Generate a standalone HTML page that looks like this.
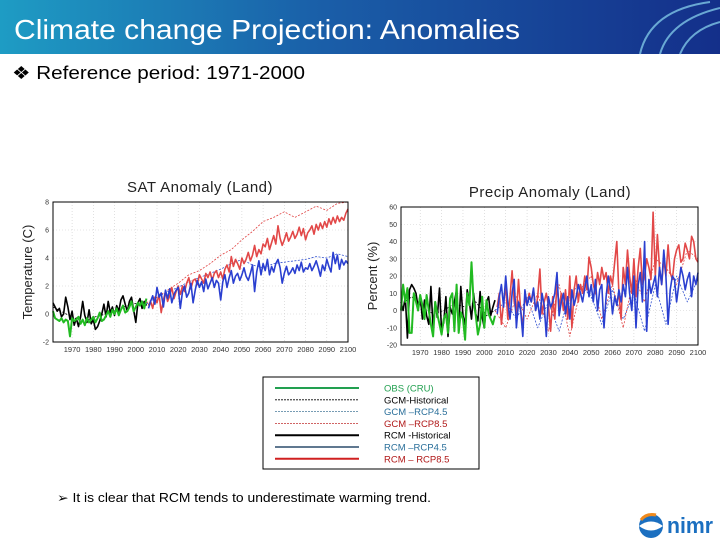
<!DOCTYPE html>
<html><head><meta charset="utf-8"><style>
body{margin:0;width:720px;height:540px;overflow:hidden;background:#fff;font-family:"Liberation Sans",sans-serif;}
svg{display:block}
</style></head><body>
<svg id="s" width="720" height="540" viewBox="0 0 720 540">
<defs>
<linearGradient id="hg" x1="0" x2="1" y1="0" y2="0"><stop offset="0" stop-color="#1e9cc4"/><stop offset="0.45" stop-color="#1a5ea8"/><stop offset="1" stop-color="#142f8a"/></linearGradient>
</defs>
<rect x="0" y="0" width="720" height="54" fill="url(#hg)"/>
<g fill="none" stroke="#7fc6e6" stroke-width="2" opacity="0.8">
<path d="M640 54 Q650 10 710 2"/><path d="M660 54 Q670 20 720 8"/><path d="M680 54 Q690 30 720 22"/>
</g>
<text x="14" y="39" font-size="28" fill="#fff" textLength="506" lengthAdjust="spacingAndGlyphs">Climate change Projection: Anomalies</text>
<text x="12" y="79" font-size="18" fill="#000" textLength="293" lengthAdjust="spacingAndGlyphs">❖ Reference period: 1971-2000</text>
<g id="c1"></g><g id="c2"></g>
<g font-size="9.5">
<rect x="263" y="377" width="216" height="92" fill="#fff" stroke="#000" stroke-width="1"/>
</g>
<g id="leg"></g>
<text x="57" y="502" font-size="12.5" fill="#000" textLength="374" lengthAdjust="spacingAndGlyphs">➢  It is clear that RCM tends to underestimate warming trend.</text>
<g>
<circle cx="651" cy="526" r="12" fill="#1b6fc0"/>
<path d="M639 526 Q651 517 663 526 Q651 535 639 526Z" fill="#fff"/>
<path d="M641 520 Q646 513 656 515" stroke="#f08a1c" stroke-width="3" fill="none"/>
<text x="667" y="533" font-size="22" font-weight="bold" fill="#1b6fc0" textLength="46" lengthAdjust="spacingAndGlyphs">nimr</text>
</g>
</svg>
<script>
const NS="http://www.w3.org/2000/svg";
// ---- SAT data ----
const satObsStart=1961;
const satObs=[0.2,-0.3,-0.4,-0.5,-0.3,-0.6,-0.4,-0.5,-1.6,-0.3,-0.5,-0.4,-0.2,-0.7,-0.4,-0.8,-0.3,-0.6,-0.4,-0.2,-0.6,-0.3,0.1,-0.5,-0.4,-0.1,0.2,-0.2,0.3,0.0,0.4,-0.1,0.3,0.6,0.1,0.2,0.5,0.9,0.2,0.5,0.8,0.6,0.9,0.4,1.1];
const satRcmHist=[0.8,0.5,0.2,0.4,-0.2,0.0,1.2,0.5,-0.4,0.2,-0.8,-0.3,-0.9,-0.2,0.9,-0.1,-0.6,0.3,-0.7,-0.4,-1.1,-0.9,-0.5,0.0,0.7,-0.2,0.9,0.1,0.5,-0.1,0.6,0.2,1.0,1.3,0.7,0.2,0.9,1.2,0.3,-0.6,0.8,1.1,0.4,0.9,0.6];
const satRcm45=[0.4,0.9,1.3,0.7,1.9,1.2,1.5,0.5,1.7,1.1,1.8,0.8,1.4,1.7,1.9,0.4,1.6,2.0,1.2,1.5,2.2,0.8,1.7,2.4,1.9,2.3,1.6,2.5,1.8,2.2,2.6,1.9,2.4,2.2,1.0,2.3,2.8,1.9,2.6,3.1,2.2,2.7,2.9,2.4,2.8,3.3,2.7,2.4,2.9,3.5,1.6,3.0,3.8,2.8,3.6,3.1,3.9,2.8,3.4,3.0,3.6,3.9,3.3,2.2,2.9,3.4,2.8,3.0,3.3,2.9,3.5,3.1,3.7,3.0,3.3,3.2,3.6,3.1,3.4,3.8,3.3,2.7,3.5,3.1,3.9,3.4,3.0,4.4,3.6,4.2,3.2,3.9,3.5,3.8,3.6];
const satRcm85=[0.6,0.9,0.4,1.2,0.8,1.4,0.1,1.0,1.6,0.9,1.3,1.9,1.1,1.6,2.0,1.4,2.0,1.6,2.2,2.6,1.8,2.4,2.5,2.1,2.8,2.5,2.2,2.9,2.6,3.0,2.4,2.9,3.1,2.6,3.0,2.5,3.2,3.5,3.0,4.1,3.4,3.9,3.6,3.2,4.0,3.6,3.9,4.4,3.8,4.2,4.9,4.1,4.6,4.3,5.0,4.8,5.4,4.6,5.1,5.6,5.0,6.3,5.4,4.9,5.3,5.8,5.2,5.5,5.9,5.4,5.7,6.2,5.6,6.1,5.3,5.8,6.0,6.3,5.7,6.4,6.0,6.5,6.1,6.6,6.2,6.8,6.4,6.9,6.5,7.0,6.6,6.9,6.7,7.2,7.5];
const satGcmHist=[0.5,0.1,-0.3,-0.5,-0.2,0.0,0.3,0.6,0.8,0.7];
const satGcm45=[0.7,1.2,1.6,1.9,2.3,2.6,2.9,3.2,3.6,3.9,3.5,3.3,3.6,3.7,3.8,3.9,4.1,4.0,4.3,4.1];
const satGcm85=[0.8,1.2,1.7,2.2,2.8,3.1,3.6,4.2,4.6,5.3,5.9,6.6,6.9,7.3,6.9,7.3,7.7,7.4,7.9,8.0];
const satTicks=[-2,0,2,4,6,8];
// ---- Precip data ----
const prObs=[0,15,5,13,-13,-13,10,5,0,9,3,-5,9,0,-8,-15,5,-2,-8,-14,-5,-2,-13,7,10,-12,15,-13,-1,-5,-17,10,3,28,5,-3,-14,-8,8,-10,6,-2,-5,-8,-3];
const prRcmHist=[5,0,8,-16,12,15,13,10,2,9,-5,6,-3,-8,14,-10,5,-4,13,-12,-7,8,-15,2,-2,5,12,-12,14,-3,-8,12,5,-5,10,-2,-6,11,-4,-10,5,8,-3,2,6];
const prRcm45=[-2,8,15,2,20,5,-5,10,18,-10,5,0,-15,12,3,8,5,13,0,5,-5,10,3,-15,8,2,5,10,22,-3,5,10,-2,8,-5,12,3,8,15,10,5,13,20,8,15,5,18,0,12,15,-10,8,20,12,-2,8,3,12,5,15,8,25,10,0,20,-10,15,22,5,40,-12,18,10,15,20,8,25,15,35,20,-8,12,20,18,5,15,25,20,12,18,22,8,20,15,22];
const prRcm85=[2,10,-8,5,15,-5,8,23,5,-2,18,0,-10,8,3,10,5,12,0,8,24,-2,5,10,3,-12,8,-5,15,2,10,0,12,-5,20,-10,12,20,5,15,10,20,12,31,25,15,10,22,15,25,18,22,10,20,15,28,40,10,-5,25,15,35,20,10,30,8,25,36,15,20,30,25,18,57,20,44,25,15,30,20,38,22,18,30,35,38,28,30,39,35,30,43,40,30,28];
const prGcmHist=[3,8,2,-2,0,4,2,5,-3,1];
const prGcm45=[0,5,-5,8,-10,5,-12,10,15,8,-8,12,-5,10,-12,15,-8,20,5,18];
const prGcm85=[0,-10,8,-5,10,-12,15,-15,12,20,-5,15,-10,20,5,30,25,15,35,30];
const prTicks=[-20,-10,0,10,20,30,40,50,60];
const xTicks=[1970,1980,1990,2000,2010,2020,2030,2040,2050,2060,2070,2080,2090,2100];

function el(parent,tag,attrs,text){const e=document.createElementNS(NS,tag);for(const k in attrs)e.setAttribute(k,attrs[k]);if(text!==undefined)e.textContent=text;parent.appendChild(e);return e;}

function chart(g,cfg){
  const {x0,x1,y0,y1,ymin,ymax,ticks,title,tx,ty,ylab,ylx}=cfg;
  const xs=yr=>x0+(yr-1961)/(2100-1961)*(x1-x0);
  const ys=v=>y1-(v-ymin)/(ymax-ymin)*(y1-y0);
  const t=el(g,'text',{x:tx,y:ty,'font-size':15,'text-anchor':'middle',fill:'#222','letter-spacing':'0.5'},title);
  
  
  const yl=el(g,'text',{x:ylx,y:(y0+y1)/2,'font-size':13,'text-anchor':'middle',fill:'#222',transform:`rotate(-90 ${ylx} ${(y0+y1)/2})`},ylab);
  
  
  xTicks.forEach(yr=>{
    const l=el(g,'line',{x1:xs(yr),x2:xs(yr),y1:y0,y2:y1,stroke:'#ccc','stroke-width':0.6,'stroke-dasharray':'1 2'});
    
    
    const tl=el(g,'text',{x:xs(yr),y:y1+10,'font-size':7.5,'text-anchor':'middle',fill:'#333'},yr);
    
    
  });
  ticks.forEach(v=>{
    if(v>ymin&&v<ymax){const l=el(g,'line',{x1:x0,x2:x1,y1:ys(v),y2:ys(v),stroke:'#ccc','stroke-width':0.6,'stroke-dasharray':'1 2'});
    
    }
    const tl=el(g,'text',{x:x0-4,y:ys(v)+2.5,'font-size':7,'text-anchor':'end',fill:'#333'},v);
    
    
  });
  function series(arr,start,step,color,w,dash,name){
    const pts=arr.map((v,i)=>xs(start+i*step).toFixed(1)+','+ys(v).toFixed(1)).join(' ');
    const p=el(g,'polyline',{points:pts,fill:'none',stroke:color,'stroke-width':w,'stroke-linejoin':'round'});
    if(dash)p.setAttribute('stroke-dasharray',dash);
    
    
  }
  cfg.series.forEach(s=>series(...s));
  const b=el(g,'rect',{x:x0,y:y0,width:x1-x0,height:y1-y0,fill:'none',stroke:'#000','stroke-width':1});
  
  
}
const g1=document.getElementById('c1');


chart(g1,{x0:53,x1:348,y0:202,y1:342,ymin:-2,ymax:8,ticks:satTicks,title:'SAT Anomaly (Land)',tx:200,ty:192,ylab:'Temperature (C)',ylx:32,
 series:[[satGcmHist,1961,5,'#000',0.8,'2 1.5','gcm-historical-line'],[satGcm45,2005,5,'#3050d0',0.8,'2 1.5','gcm-rcp45-line'],[satGcm85,2005,5,'#e04040',0.8,'2 1.5','gcm-rcp85-line'],
 [satRcm85,2006,1,'#e24848',1.6,null,'rcm-rcp85-line'],[satRcm45,2006,1,'#2a3fd0',1.6,null,'rcm-rcp45-line'],[satRcmHist,1961,1,'#000',1.6,null,'rcm-historical-line'],[satObs,1961,1,'#22bb22',2,null,'obs-cru-line']]});
const g2=document.getElementById('c2');


chart(g2,{x0:401,x1:698,y0:207,y1:345,ymin:-20,ymax:60,ticks:prTicks,title:'Precip Anomaly (Land)',tx:550,ty:197,ylab:'Percent (%)',ylx:377,
 series:[[prGcmHist,1961,5,'#000',0.8,'2 1.5','gcm-historical-line'],[prGcm45,2005,5,'#3050d0',0.8,'2 1.5','gcm-rcp45-line'],[prGcm85,2005,5,'#e04040',0.8,'2 1.5','gcm-rcp85-line'],
 [prRcm85,2006,1,'#e24848',1.6,null,'rcm-rcp85-line'],[prRcm45,2006,1,'#2a3fd0',1.6,null,'rcm-rcp45-line'],[prRcmHist,1961,1,'#000',1.6,null,'rcm-historical-line'],[prObs,1961,1,'#22bb22',2,null,'obs-cru-line']]});
// legend
const legLabels=['OBS (CRU)','GCM-Historical','GCM –RCP4.5','GCM –RCP8.5','RCM -Historical','RCM –RCP4.5','RCM – RCP8.5'];
const legColors=['#22a050','#000','#4a7c9c','#c03030','#000','#607890','#d02020'];
const legText=['#22a050','#000','#2a6f9a','#b01818','#000','#2a6f9a','#b01818'];
const lg=document.getElementById('leg');
legLabels.forEach((lab,i)=>{
  const y=388+i*11.8;
  const dashed=i>=1&&i<=3;
  const l=el(lg,'line',{x1:275,x2:359,y1:y,y2:y,stroke:legColors[i],'stroke-width':dashed?0.8:2});
  if(dashed)l.setAttribute('stroke-dasharray','2 1');
  
  
  const t=el(lg,'text',{x:384,y:y+3.5,'font-size':9.5,fill:legText[i]},lab);
  
  
});
</script>
</body></html>
